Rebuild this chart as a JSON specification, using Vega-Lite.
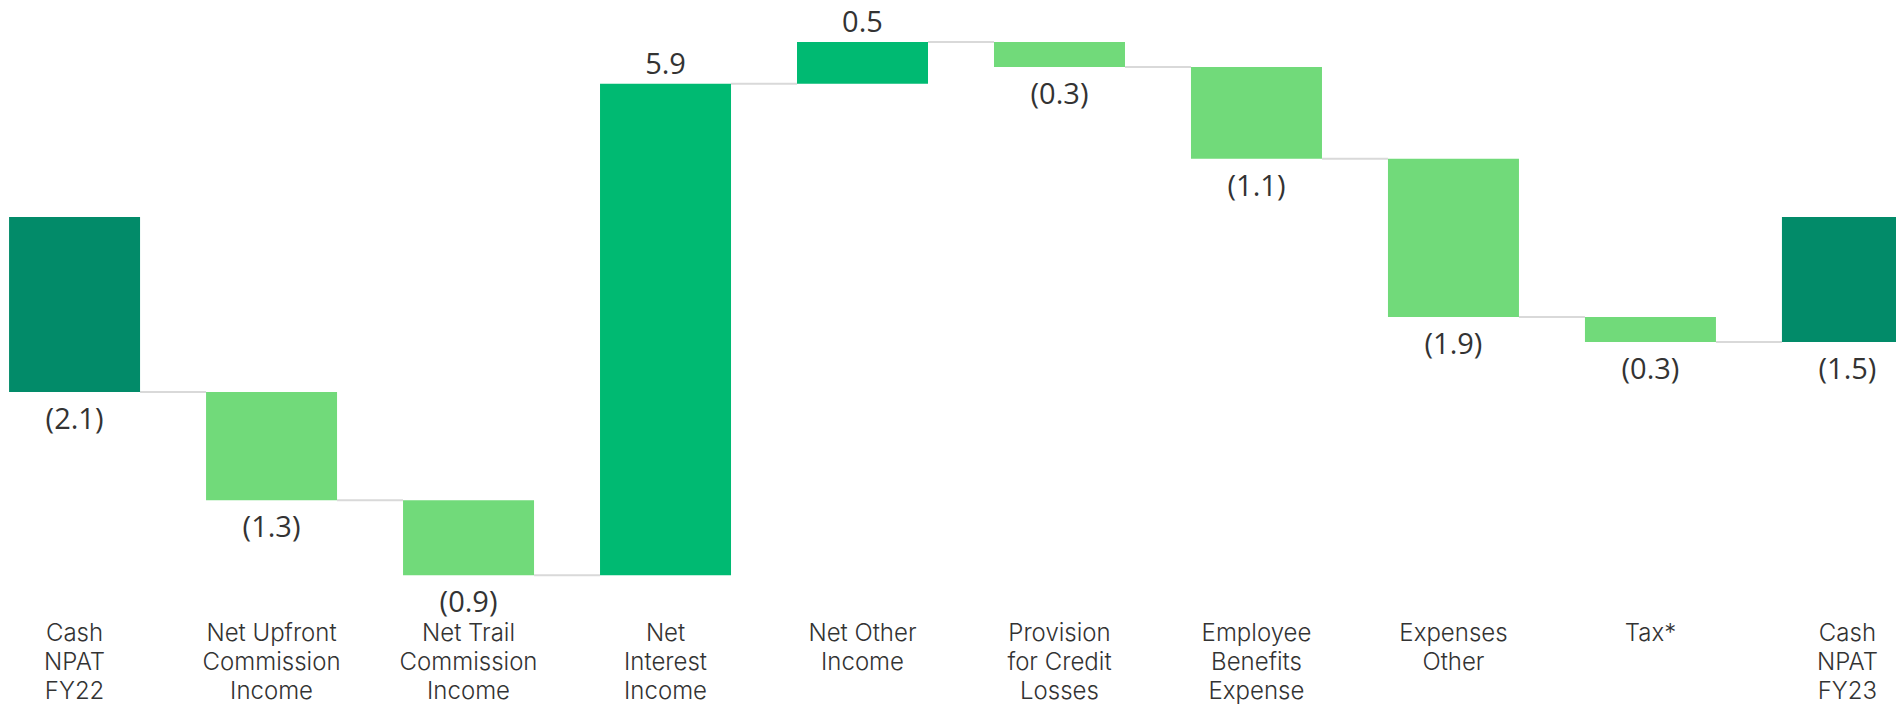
{
  "$schema": "https://vega.github.io/schema/vega-lite/v6.json",
  "width": 1896,
  "height": 600,
  "autosize": {"type": "none"},
  "padding": {"left": 0, "right": 0, "top": 0, "bottom": 108},
  "background": "white",
  "config": {"view": {"stroke": null}},
  "data": {
    "values": [
      {"label": "Cash|NPAT|FY22", "amount": -2.1, "kind": "Total"},
      {"label": "Net Upfront|Commission|Income", "amount": -1.3, "kind": "Decrease"},
      {"label": "Net Trail|Commission|Income", "amount": -0.9, "kind": "Decrease"},
      {"label": "Net|Interest|Income", "amount": 5.9, "kind": "Increase"},
      {"label": "Net Other|Income", "amount": 0.5, "kind": "Increase"},
      {"label": "Provision|for Credit|Losses", "amount": -0.3, "kind": "Decrease"},
      {"label": "Employee|Benefits|Expense", "amount": -1.1, "kind": "Decrease"},
      {"label": "Expenses|Other", "amount": -1.9, "kind": "Decrease"},
      {"label": "Tax*", "amount": -0.3, "kind": "Decrease"},
      {"label": "Cash|NPAT|FY23", "amount": 0, "kind": "Total"}
    ]
  },
  "transform": [
    {"window": [
      {"op": "sum", "field": "amount", "as": "sum"},
      {"op": "lead", "field": "label", "as": "lead"}
    ]},
    {"calculate": "datum.kind === 'Total' ? 0 : datum.sum - datum.amount", "as": "start"},
    {"calculate": "datum.sum", "as": "end"},
    {"calculate": "datum.end - datum.start", "as": "delta"},
    {"calculate": "min(datum.start, datum.end)", "as": "lower"},
    {"calculate": "max(datum.start, datum.end)", "as": "upper"},
    {"calculate": "datum.delta < 0 ? '(' + format(-datum.delta, '.1f') + ')' : format(datum.delta, '.1f')", "as": "text"}
  ],
  "encoding": {
    "x": {
      "field": "label",
      "type": "nominal",
      "sort": null,
      "scale": {"range": [0, 1922], "paddingInner": 0.335, "paddingOuter": 0.046},
      "axis": {
        "title": null,
        "domain": false,
        "ticks": false,
        "labelAngle": 0,
        "labelExpr": "split(datum.label, '|')",
        "labelFont": "Inter",
        "labelFontSize": 24,
        "labelFontWeight": 300,
        "labelColor": "#333333",
        "labelPadding": 21,
        "labelLineHeight": 29,
        "labelBaseline": "top",
        "labelOverlap": false,
        "labelLimit": 0,
        "labelBound": false
      }
    }
  },
  "layer": [
    {
      "transform": [{"filter": "datum.lead != null"}],
      "mark": {"type": "rule", "color": "#D9D9D9", "strokeWidth": 2, "xOffset": 65.5, "x2Offset": -65.5},
      "encoding": {
        "x2": {"field": "lead"},
        "y": {"field": "end", "type": "quantitative", "scale": {"domain": [-4.598, 2.605], "nice": false, "zero": false}, "axis": null}
      }
    },
    {
      "mark": {"type": "bar", "clip": true},
      "encoding": {
        "y": {"field": "lower", "type": "quantitative", "scale": {"domain": [-4.598, 2.605], "nice": false, "zero": false}, "axis": null},
        "y2": {"field": "upper"},
        "color": {
          "field": "kind",
          "type": "nominal",
          "scale": {"domain": ["Total", "Increase", "Decrease"], "range": ["#028B69", "#00BA72", "#71DA7A"]},
          "legend": null
        }
      }
    },
    {
      "transform": [{"filter": "datum.delta < 0"}],
      "mark": {"type": "text", "baseline": "top", "dy": 14, "font": "Open Sans", "fontSize": 29, "color": "#333333"},
      "encoding": {
        "y": {"field": "lower", "type": "quantitative", "scale": {"domain": [-4.598, 2.605], "nice": false, "zero": false}, "axis": null},
        "text": {"field": "text"}
      }
    },
    {
      "transform": [{"filter": "datum.delta > 0"}],
      "mark": {"type": "text", "baseline": "alphabetic", "dy": -10, "font": "Open Sans", "fontSize": 29, "color": "#333333"},
      "encoding": {
        "y": {"field": "upper", "type": "quantitative", "scale": {"domain": [-4.598, 2.605], "nice": false, "zero": false}, "axis": null},
        "text": {"field": "text"}
      }
    }
  ]
}
